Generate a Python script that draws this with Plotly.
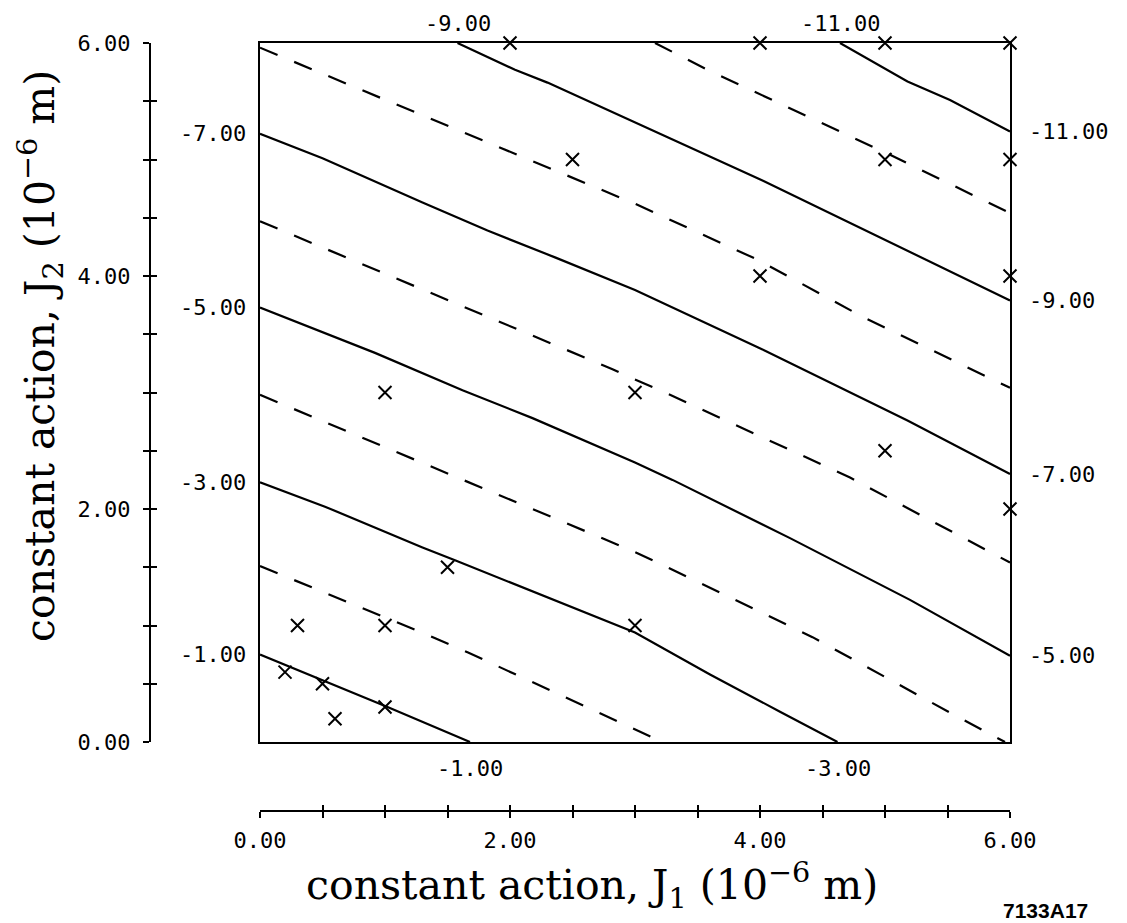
import plotly.graph_objects as go

# ---------------- data ----------------
contour_levels = [-1, -2, -3, -4, -5, -6, -7, -8, -9, -10, -11]

contour_j1 = [
    [0.0, 1.02, 1.68],
    [0.0, 1.34, 1.66, 3.22],
    [0.0, 0.52, 1.30, 1.56, 3.0, 3.6, 4.16, 4.62],
    [0.0, 2.98, 3.26, 4.42, 5.54, 5.96],
    [0.0, 0.52, 0.92, 1.62, 2.18, 3.0, 3.30, 4.24, 5.2, 6.0],
    [0.0, 2.82, 2.96, 3.26, 4.72, 6.0],
    [0.0, 0.50, 1.30, 1.82, 2.36, 3.0, 4.02, 4.82, 5.18, 6.0],
    [0.0, 3.0, 3.98, 4.82, 6.0],
    [1.58, 2.04, 2.30, 3.0, 4.02, 6.0],
    [3.16, 3.58, 5.04, 6.0],
    [4.64, 5.18, 5.52, 6.0],
]
contour_j2 = [
    [0.75, 0.30, 0.0],
    [1.51, 0.92, 0.77, 0.0],
    [2.23, 2.02, 1.67, 1.56, 0.94, 0.58, 0.26, 0.0],
    [2.98, 1.64, 1.50, 0.90, 0.24, 0.0],
    [3.73, 3.51, 3.34, 3.02, 2.78, 2.40, 2.25, 1.75, 1.22, 0.74],
    [4.47, 3.20, 3.13, 2.99, 2.27, 1.54],
    [5.22, 5.01, 4.63, 4.39, 4.16, 3.88, 3.37, 2.95, 2.76, 2.30],
    [5.96, 4.62, 4.14, 3.65, 3.04],
    [6.0, 5.77, 5.66, 5.32, 4.82, 3.79],
    [6.0, 5.77, 5.04, 4.54],
    [6.0, 5.67, 5.51, 5.24],
]

marker_j1 = [0.2, 0.3, 0.5, 0.6, 1.0, 1.0, 1.5, 1.0, 3.0, 3.0, 2.0, 2.5,
             4.0, 4.0, 5.0, 5.0, 6.0, 6.0, 6.0, 5.0, 6.0]
marker_j2 = [0.6, 1.0, 0.5, 0.2, 0.3, 1.0, 1.5, 3.0, 1.0, 3.0, 6.0, 5.0,
             6.0, 4.0, 6.0, 5.0, 6.0, 5.0, 4.0, 2.5, 2.0]

major_tick_vals = [0.0, 2.0, 4.0, 6.0]
major_tick_text = ["0.00", "2.00", "4.00", "6.00"]
minor_tick_vals = [0.5, 1.0, 1.5, 2.5, 3.0, 3.5, 4.5, 5.0, 5.5]
all_tick_vals = [0.0, 0.5, 1.0, 1.5, 2.0, 2.5, 3.0, 3.5, 4.0, 4.5, 5.0, 5.5, 6.0]

x_title = "constant action, J<sub>1</sub> (10<sup>−6</sup> m)"
y_title = "constant action, J<sub>2</sub> (10<sup>−6</sup> m)"
figure_id = "7133A17"

# ---------------- layout geometry ----------------
OFF = 8                       # page body margin
W, H = 1127 - OFF, 923 - OFF
ML, MT = 150 - OFF, 43 - OFF
PW, PH = 860, 768
MR = W - ML - PW
MB = H - MT - PH
x_dom = [110 / PW, 1.0]
y_dom = [69 / PH, 1.0]


def px(page_x):
    return (page_x - 150) / PW


def py(page_y):
    return (811 - page_y) / PH


mono = dict(family="DejaVu Sans Mono", size=22, color="black")
serif = dict(family="DejaVu Serif", size=41, color="black")

fig = go.Figure()

for lvl, xs, ys in zip(contour_levels, contour_j1, contour_j2):
    solid = (lvl % 2 != 0)
    fig.add_trace(go.Scatter(
        x=xs, y=ys, mode="lines",
        line=dict(color="black", width=2.2, dash="solid" if solid else "19px,18px"),
        showlegend=False, hoverinfo="skip", xaxis="x", yaxis="y",
    ))

fig.add_trace(go.Scatter(
    x=marker_j1, y=marker_j2, mode="markers",
    marker=dict(symbol="x-thin", size=13, line=dict(color="black", width=2), color="black"),
    showlegend=False, cliponaxis=False, xaxis="x", yaxis="y",
))

for xa, ya in (("x2", "y2"), ("x3", "y3")):
    fig.add_trace(go.Scatter(x=[None], y=[None], xaxis=xa, yaxis=ya,
                             showlegend=False, hoverinfo="skip"))

annotations = []
for lvl, xs, ys in zip(contour_levels, contour_j1, contour_j2):
    if lvl % 2 == 0:
        continue
    txt = f"{lvl:.2f}"
    for ex, ey in ((xs[0], ys[0]), (xs[-1], ys[-1])):
        a = dict(x=ex, y=ey, xref="x", yref="y", text=txt, showarrow=False, font=mono)
        if ex <= 0.0:
            a.update(xanchor="right", yanchor="middle", xshift=-12)
        elif ex >= 6.0:
            a.update(xanchor="left", yanchor="middle", xshift=17)
        elif ey <= 0.0:
            a.update(xanchor="center", yanchor="top", yshift=-12)
        else:
            a.update(xanchor="center", yanchor="bottom", yshift=5)
        annotations.append(a)

annotations.append(dict(x=px(592), y=py(885), xref="paper", yref="paper",
                        text=x_title, showarrow=False, font=serif,
                        xanchor="center", yanchor="middle"))
annotations.append(dict(x=px(40), y=py(356), xref="paper", yref="paper",
                        text=y_title, showarrow=False, font=serif, textangle=-90,
                        xanchor="center", yanchor="middle"))
annotations.append(dict(x=px(1045), y=py(910), xref="paper", yref="paper",
                        text=figure_id, showarrow=False,
                        font=dict(family="Liberation Sans", size=21, color="black", weight="bold"),
                        xanchor="center", yanchor="middle"))

frame = dict(range=[0, 6], showline=True, mirror=True, linecolor="black", linewidth=2,
             ticks="", showticklabels=False, showgrid=False, zeroline=False, fixedrange=True)

tick_axis_out = dict(range=[0, 6], showline=True, linecolor="black", linewidth=2,
                     tickmode="array", tickvals=major_tick_vals, ticktext=major_tick_text,
                     ticks="outside", ticklen=6, tickwidth=1.5, tickcolor="black",
                     minor=dict(tickmode="array", tickvals=minor_tick_vals, ticks="outside",
                                ticklen=6, tickwidth=1.5, tickcolor="black", showgrid=False),
                     tickfont=mono, showgrid=False, zeroline=False,
                     anchor="free", position=0)
tick_axis_in = dict(range=[0, 6], showline=False, showticklabels=False,
                    tickmode="array", tickvals=all_tick_vals,
                    ticks="inside", ticklen=6, tickwidth=1.5, tickcolor="black",
                    showgrid=False, zeroline=False, anchor="free", position=0)

fig.update_layout(
    width=W, height=H,
    margin=dict(l=ML, r=MR, t=MT, b=MB, pad=0),
    paper_bgcolor="white", plot_bgcolor="white",
    showlegend=False,
    xaxis=dict(domain=x_dom, anchor="y", **frame),
    yaxis=dict(domain=y_dom, anchor="x", **frame),
    xaxis2=dict(overlaying="x", side="bottom", ticklabelstandoff=4, **tick_axis_out),
    yaxis2=dict(overlaying="y", side="left", ticklabelstandoff=8, **tick_axis_out),
    xaxis3=dict(overlaying="x", side="bottom", **tick_axis_in),
    yaxis3=dict(overlaying="y", side="left", **tick_axis_in),
    annotations=annotations,
)

fig.write_html("out.html")
